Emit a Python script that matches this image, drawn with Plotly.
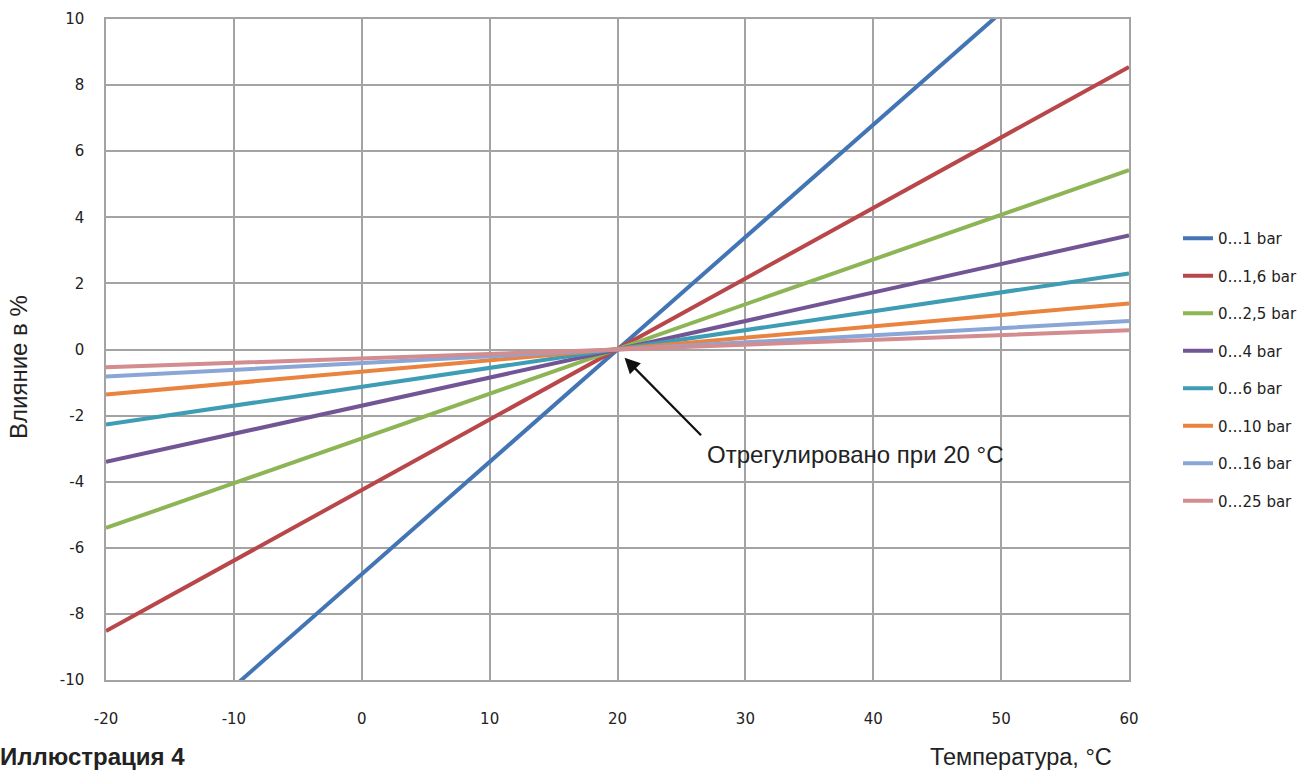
import plotly.graph_objects as go

# Data
temps = [-20, 20, 60]
series_names = ["0…1 bar", "0…1,6 bar", "0…2,5 bar", "0…4 bar",
                "0…6 bar", "0…10 bar", "0…16 bar", "0…25 bar"]
v_1 = [-13.6, 0, 13.6]
v_1_6 = [-8.52, 0, 8.55]
v_2_5 = [-5.4, 0, 5.43]
v_4 = [-3.4, 0, 3.45]
v_6 = [-2.27, 0, 2.3]
v_10 = [-1.36, 0, 1.39]
v_16 = [-0.82, 0, 0.86]
v_25 = [-0.54, 0, 0.58]
series_values = [v_1, v_1_6, v_2_5, v_4, v_6, v_10, v_16, v_25]
colors = ["#4375B5", "#B9474A", "#8DB555", "#715595",
          "#3E9DB4", "#E9833F", "#8AA6D6", "#D38C8F"]

x_ticks = [-20, -10, 0, 10, 20, 30, 40, 50, 60]
y_ticks = [-10, -8, -6, -4, -2, 0, 2, 4, 6, 8, 10]

fig = go.Figure()
for i, (name, vals) in enumerate(zip(series_names, series_values)):
    fig.add_trace(go.Scatter(
        x=temps, y=vals, mode="lines", name=name,
        legendgroup=f"g{i}",
        line=dict(color=colors[i], width=4),
    ))

grid_col = "#A3A3A3"
tick_font = dict(family="DejaVu Sans", size=15, color="#222")
fig.update_xaxes(
    range=[-20, 60], tickvals=x_ticks, ticktext=[str(t) for t in x_ticks],
    showgrid=True, gridcolor=grid_col, gridwidth=1.5,
    showline=True, linecolor=grid_col, linewidth=1.5, mirror=True,
    zeroline=False, ticks="", ticklabelstandoff=24,
    tickfont=tick_font,
)
fig.update_yaxes(
    range=[-10, 10], tickvals=y_ticks, ticktext=[str(t) for t in y_ticks],
    showgrid=True, gridcolor=grid_col, gridwidth=1.5,
    showline=True, linecolor=grid_col, linewidth=1.5, mirror=True,
    zeroline=False, ticks="", ticklabelstandoff=17,
    tickfont=tick_font,
)

PW, PH = 1023, 661  # plot-area size in pixels


def px(X):
    return (X - 106) / PW


def py(Y):
    return (680 - Y) / PH


fig.update_layout(
    width=1302, height=772,
    margin=dict(l=106, r=173, t=19, b=92, autoexpand=False),
    paper_bgcolor="white", plot_bgcolor="white",
    showlegend=True,
    legend=dict(
        x=px(1178), y=py(222), xanchor="left", yanchor="top",
        font=dict(family="DejaVu Sans", size=15, color="#222"),
        tracegroupgap=15, traceorder="grouped",
        bgcolor="rgba(0,0,0,0)",
    ),
    annotations=[
        dict(text="Влияние в %", xref="paper", yref="paper",
             x=px(18), y=py(367), xanchor="center", yanchor="middle",
             textangle=-90, showarrow=False,
             font=dict(family="Liberation Sans", size=24, color="#222")),
        dict(text="Температура, °C", xref="paper", yref="paper",
             x=px(1021), y=py(772), xanchor="center", yanchor="bottom",
             showarrow=False,
             font=dict(family="Liberation Sans", size=23.5, color="#222")),
        dict(text="<b>Иллюстрация 4</b>", xref="paper", yref="paper",
             x=px(-2), y=py(772), xanchor="left", yanchor="bottom",
             showarrow=False,
             font=dict(family="Liberation Sans", size=24, color="#222")),
        dict(text="Отрегулировано при 20 °C", xref="paper", yref="paper",
             x=px(855), y=py(454),
             xanchor="center", yanchor="middle", showarrow=False,
             font=dict(family="Liberation Sans", size=24, color="#222")),
        dict(text="", x=20.55, y=-0.25, xref="x", yref="y",
             showarrow=True, ax=78, ay=79, axref="pixel", ayref="pixel",
             arrowhead=2, arrowsize=1.4, arrowwidth=2.2, arrowcolor="#111"),
    ],
)

fig.write_html("out.html", config={"displayModeBar": False},
               post_script="document.body.style.margin='0px';")
